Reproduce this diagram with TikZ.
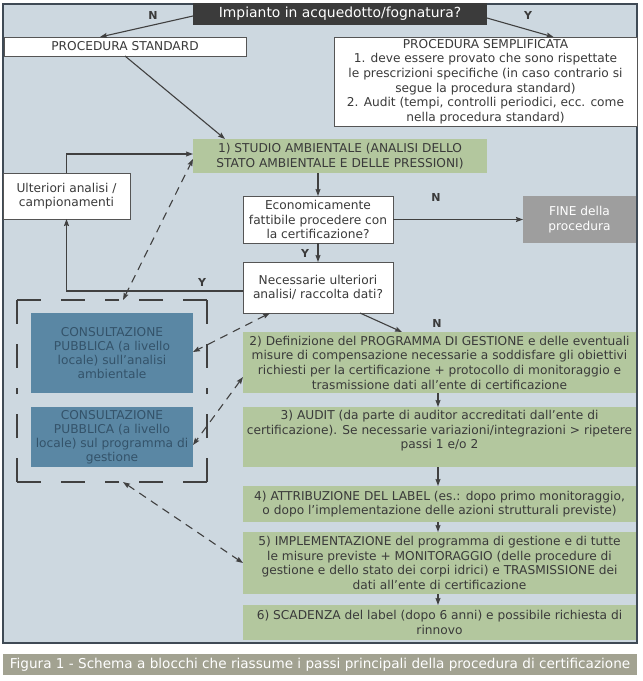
\documentclass[tikz,border=0pt]{standalone}
\usepackage{fontspec}
\setmainfont{DejaVu Sans}
\usetikzlibrary{arrows.meta,calc}
\definecolor{bgc}{HTML}{CDD8E0}
\definecolor{framec}{HTML}{3F4A55}
\definecolor{greenc}{HTML}{B3C79E}
\definecolor{bluec}{HTML}{5A87A4}
\definecolor{bluetxt}{HTML}{34536A}
\definecolor{titlec}{HTML}{3B3B3B}
\definecolor{finec}{HTML}{9E9E9E}
\definecolor{capc}{HTML}{A2A291}
\definecolor{txtc}{HTML}{3A3A3A}
\definecolor{arrc}{HTML}{404040}
\definecolor{boxline}{HTML}{555555}
\tikzset{
 txt/.style={font=\fontsize{12.2}{14.7}\selectfont, text=txtc, align=center, inner sep=0pt, outer sep=0pt},
 wbox/.style={txt, fill=white, draw=boxline, line width=0.8pt},
 gbox/.style={txt, fill=greenc},
 bbox/.style={txt, fill=bluec, text=bluetxt, font=\fontsize{12.2}{14}\selectfont},
 lbl/.style={font=\fontsize{11}{12}\selectfont\bfseries, text=txtc, inner sep=0pt},
 tip/.tip={Stealth[length=7pt,width=5pt,inset=1pt]},
 arr/.style={draw=arrc, line width=1.1pt, -tip},
 darr/.style={draw=arrc, line width=1.1pt, dash pattern=on 8pt off 6pt, tip-tip},
 grpdash/.style={draw=arrc, line width=1.5pt, dash pattern=on 24pt off 20pt},
}
\begin{document}
\begin{tikzpicture}[x=1pt,y=-1pt]
\useasboundingbox (0,0) rectangle (643,681);
\fill[white] (0,0) rectangle (643,681);
\draw[fill=bgc, draw=framec, line width=1.5pt] (3,4) rectangle (637,643);

\node[txt, fill=titlec, text=white, font=\fontsize{13.9}{16}\selectfont, minimum width=294pt, minimum height=22pt] (title) at (340,14) {Impianto in acquedotto/fognatura?};
\node[wbox, minimum width=242pt, minimum height=19pt] (std) at (125,46.5) {PROCEDURA STANDARD};
\node[wbox, minimum width=303pt, minimum height=89pt] (semp) at (485.5,81.5) {PROCEDURA SEMPLIFICATA\\1. deve essere provato che sono rispettate\\le prescrizioni specifiche (in caso contrario si\\segue la procedura standard)\\2. Audit (tempi, controlli periodici, ecc. come\\nella procedura standard)};
\node[gbox, minimum width=294pt, minimum height=34pt] (studio) at (340,156) {1) STUDIO AMBIENTALE (ANALISI DELLO\\STATO AMBIENTALE E DELLE PRESSIONI)};
\node[wbox, minimum width=127pt, minimum height=46pt] (ult) at (66.5,196) {Ulteriori analisi /\\campionamenti};
\node[wbox, minimum width=150pt, minimum height=47pt] (econ) at (318,219.5) {Economicamente\\fattibile procedere con\\la certificazione?};
\node[txt, fill=finec, text=white, minimum width=113pt, minimum height=47pt] (fine) at (579.5,219.5) {FINE della\\procedura};
\node[wbox, minimum width=150pt, minimum height=51pt] (nec) at (318,287.5) {Necessarie ulteriori\\analisi/ raccolta dati?};
\node[gbox, minimum width=393pt, minimum height=61pt] (box2) at (439.5,362.5) {2) Definizione del PROGRAMMA DI GESTIONE e delle eventuali\\misure di compensazione necessarie a soddisfare gli obiettivi\\richiesti per la certificazione + protocollo di monitoraggio e\\trasmissione dati all’ente di certificazione};
\node[gbox, minimum width=393pt, minimum height=60pt] (box3) at (439.5,437) {3) AUDIT (da parte di auditor accreditati dall’ente di\\certificazione). Se necessarie variazioni/integrazioni > ripetere\\passi 1 e/o 2\\\mbox{}};
\node[gbox, minimum width=393pt, minimum height=36pt] (box4) at (439.5,504) {4) ATTRIBUZIONE DEL LABEL (es.: dopo primo monitoraggio,\\o dopo l’implementazione delle azioni strutturali previste)};
\node[gbox, minimum width=393pt, minimum height=62pt] (box5) at (439.5,563) {5) IMPLEMENTAZIONE del programma di gestione e di tutte\\le misure previste + MONITORAGGIO (delle procedure di\\gestione e dello stato dei corpi idrici) e TRASMISSIONE dei\\dati all’ente di certificazione};
\node[gbox, minimum width=393pt, minimum height=35pt] (box6) at (439.5,622.5) {6) SCADENZA del label (dopo 6 anni) e possibile richiesta di\\rinnovo};
\node[bbox, minimum width=162pt, minimum height=80pt] (blue1) at (112,353) {CONSULTAZIONE\\PUBBLICA (a livello\\locale) sull’analisi\\ambientale};
\node[bbox, minimum width=162pt, minimum height=60pt] (blue2) at (112,437) {CONSULTAZIONE\\PUBBLICA (a livello\\locale) sul programma di\\gestione};
\node[minimum width=190pt, minimum height=182pt, inner sep=0pt, outer sep=0pt] (grp) at (112,391) {};

\draw[grpdash] (grp.north west) -- (grp.north);
\draw[grpdash] (grp.north east) -- (grp.north);
\draw[grpdash] (grp.south west) -- (grp.south);
\draw[grpdash] (grp.south east) -- (grp.south);
\draw[grpdash] (grp.north west) -- (grp.west);
\draw[grpdash] (grp.south west) -- (grp.west);
\draw[grpdash] (grp.north east) -- (grp.east);
\draw[grpdash] (grp.south east) -- (grp.east);

\node[lbl] (n1) at (153,15) {N};
\node[lbl] (y1) at (528,15) {Y};
\node[lbl] (n2) at (436,197) {N};
\node[lbl] (y2) at (305,253) {Y};
\node[lbl] (y3) at (202,282) {Y};
\node[lbl] (n3) at (437,323) {N};

\draw[arr] ([yshift=-2pt]title.west) -- ([xshift=-25pt]std.north);
\draw[arr] ([yshift=-4pt]title.east) -- ([xshift=68pt]semp.north);
\draw[arr] (std.south) -- ([xshift=-115pt]studio.north);
\draw[arr] (ult.north) |- ([yshift=2pt]studio.west);
\draw[arr] (econ.north |- studio.south) -- (econ.north);
\draw[arr] (econ.east) -- (fine.west);
\draw[arr] (econ.south) -- (nec.north);
\draw[arr] ([yshift=-3.5pt]nec.west) -| (ult.south);
\draw[arr] ([xshift=42pt]nec.south) -- ([xshift=-37.5pt]box2.north);
\draw[arr] ([xshift=-1.5pt]box2.south) -- ([xshift=-1.5pt]box3.north);
\draw[arr] ([xshift=-1.5pt]box3.south) -- ([xshift=-1.5pt]box4.north);
\draw[arr] ([xshift=-1.5pt]box4.south) -- ([xshift=-1.5pt]box5.north);
\draw[arr] ([xshift=-1.5pt]box5.south) -- ([xshift=-1.5pt]box6.north);

\draw[darr] ([xshift=11pt]grp.north) -- ([yshift=-3pt]studio.west);
\draw[darr] ([xshift=-48pt]nec.south) -- ([yshift=1pt]blue1.east);
\draw[darr] ([yshift=-14.5pt]box2.west) -- ([yshift=-8pt]blue2.east);
\draw[darr] ([xshift=11pt]grp.south) -- (box5.west);

\node[txt, fill=capc, text=white, font=\fontsize{13.6}{16}\selectfont, minimum width=634pt, minimum height=21pt] (cap) at (320,664.5) {Figura 1 - Schema a blocchi che riassume i passi principali della procedura di certificazione};
\end{tikzpicture}
\end{document}
